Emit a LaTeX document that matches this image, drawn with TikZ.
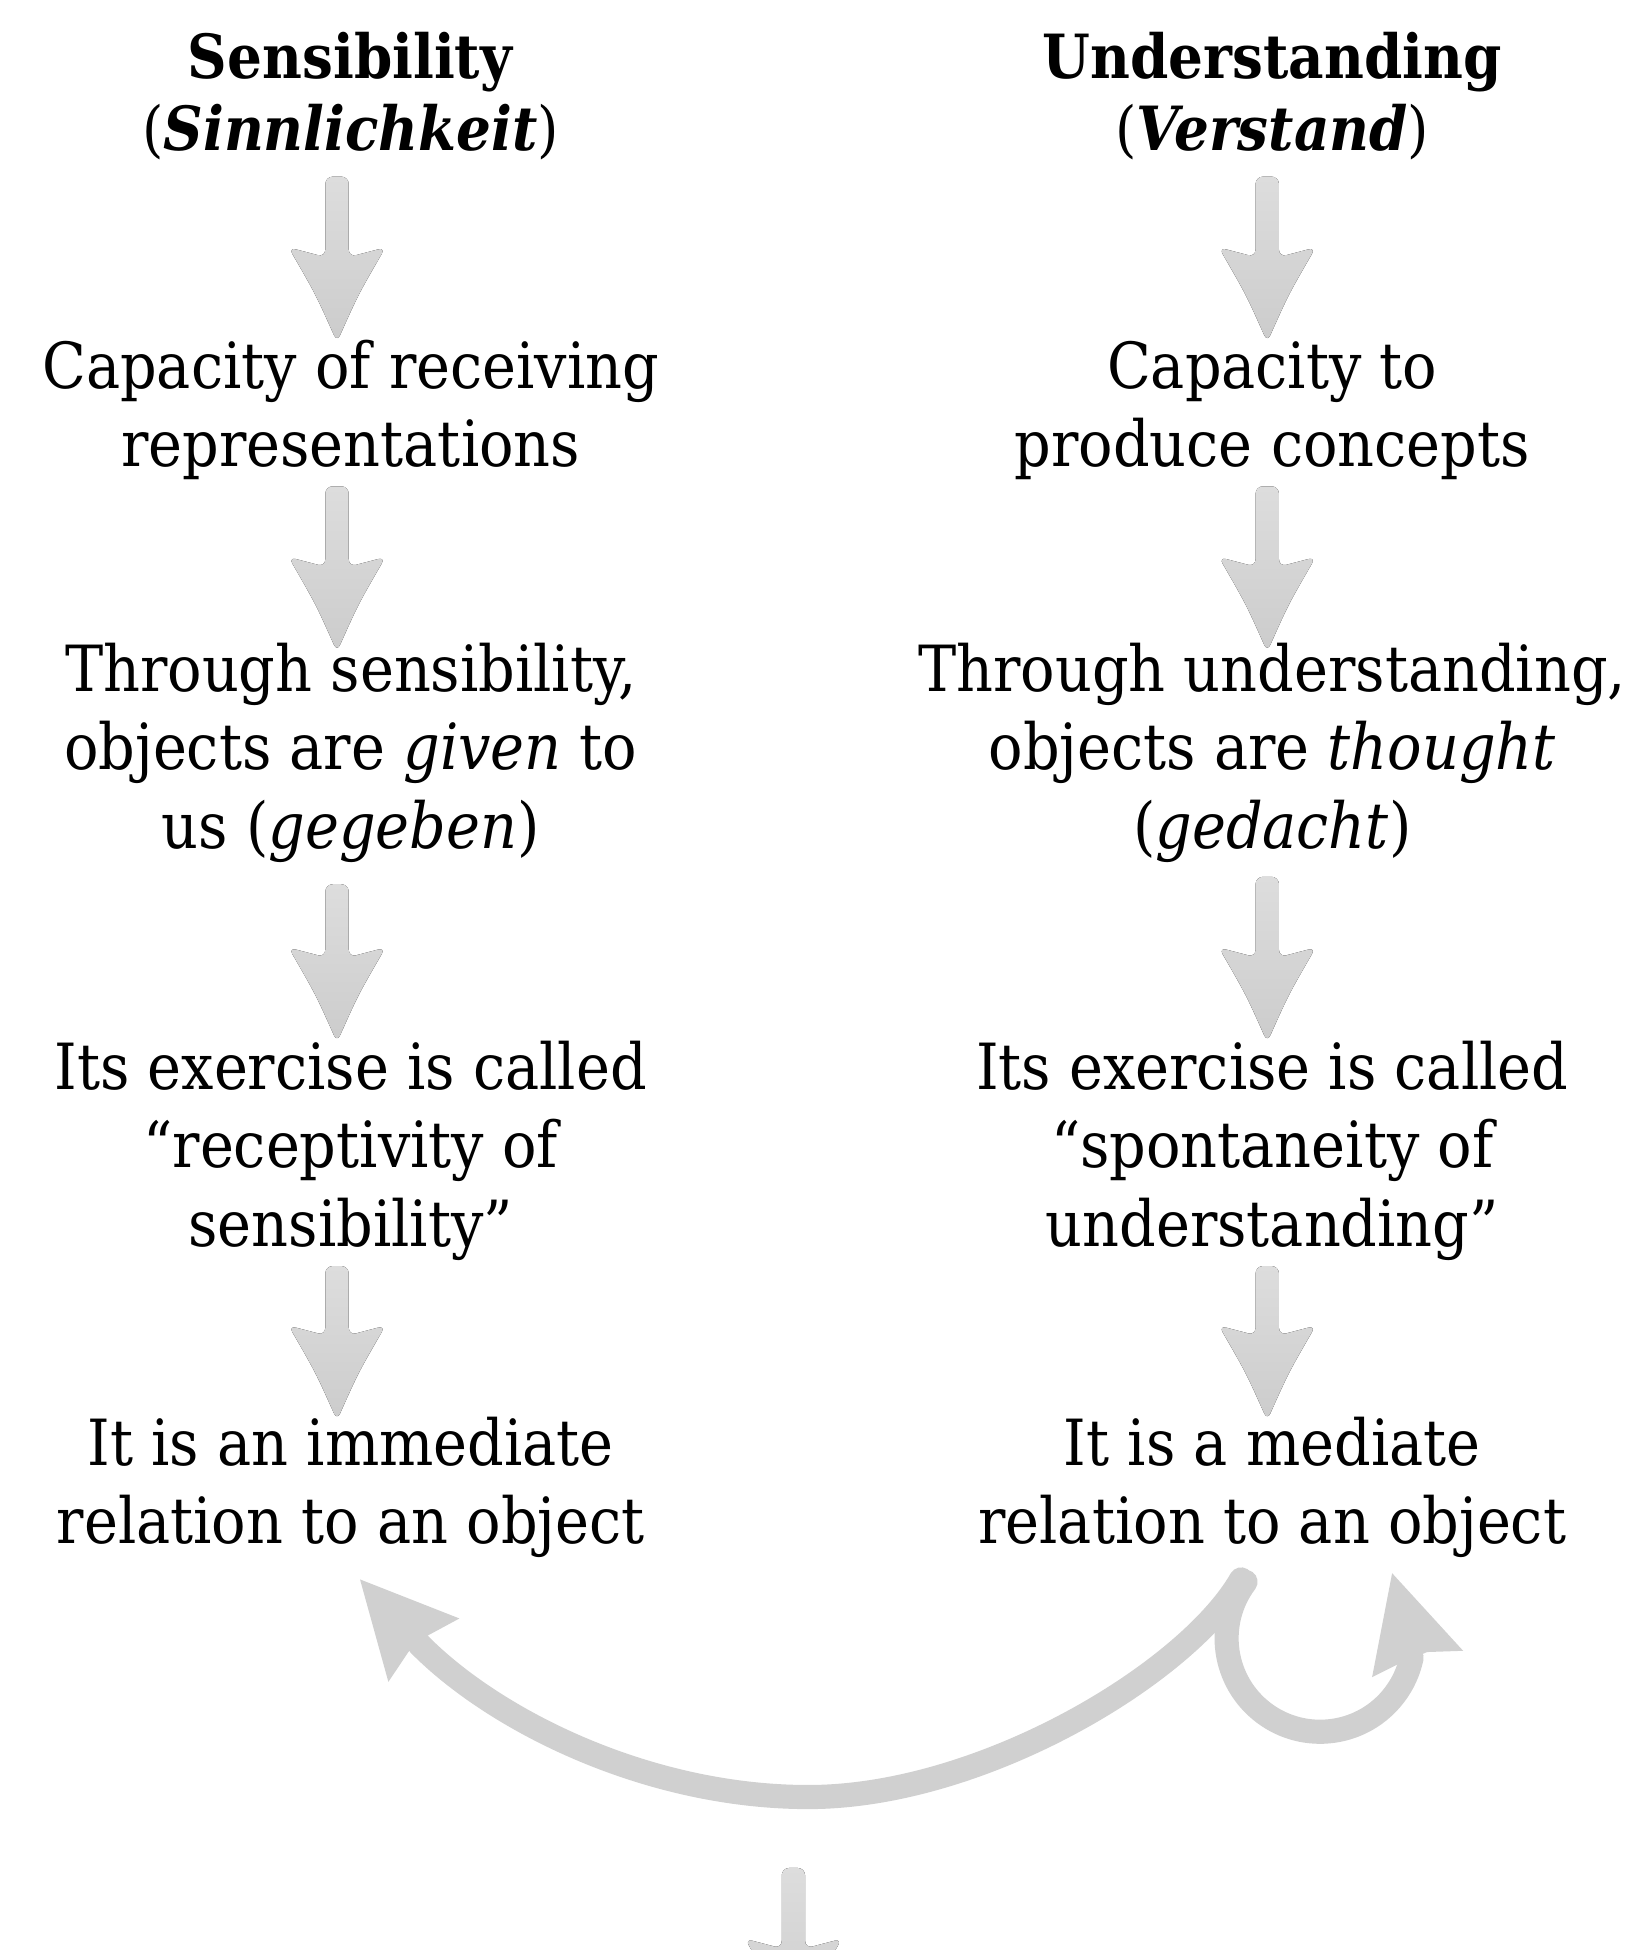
\documentclass[tikz,border=0pt]{standalone}
\usepackage{fontspec}
\setmainfont{DejaVu Serif}[FakeStretch=0.9]
\usetikzlibrary{calc}
\definecolor{arrowgray}{HTML}{D0D0D0}
\definecolor{arrowlight}{HTML}{DDDDDD}
\definecolor{arrowdark}{HTML}{CCCCCC}
% vertical block arrow from a top coordinate down to a tip coordinate
\newcommand\blockdown[2]{%
  \fill[blockfill]
    ($(#1)+(-9.4,0)$) -- ($(#1)+(9.4,0)$) -- ($(#2)+(9.4,-68.3)$)
    -- ($(#2)+(38.9,-76)$) .. controls ($(#2)+(17,-38)$) .. (#2)
    .. controls ($(#2)+(-17,-38)$) .. ($(#2)+(-38.9,-76)$)
    -- ($(#2)+(-9.4,-68.3)$) -- cycle;}
\begin{document}
\begin{tikzpicture}[x=0.5pt,y=-0.5pt,
  txt/.style={align=center, anchor=base, inner sep=0pt,
    font=\fontsize{25.6}{31.5}\selectfont},
  headtxt/.style={txt, font=\fontsize{24.5}{29}\selectfont},
  blockfill/.style={rounded corners=3pt, top color=arrowlight, bottom color=arrowdark},
  curvestroke/.style={draw=arrowgray, line width=9.7pt},
  headfill/.style={fill=arrowgray}]
\fill[white] (0,0) rectangle (1318,1568);
\useasboundingbox (0,0) rectangle (1318,1568);
\clip (0,0) rectangle (1318,1568);

% left column: sensibility (each node placed at the baseline of its last line)
\node[headtxt] (sens) at (282,121) {\textbf{Sensibility}\\(\textbf{\textit{Sinnlichkeit}})};
\node[txt] (sens1) at (282,375) {Capacity of receiving\\representations};
\node[txt] (sens2) at (282,682) {Through sensibility,\\objects are \textit{given} to\\us (\textit{gegeben})};
\node[txt] (sens3) at (282,1002) {Its exercise is called\\“receptivity of\\sensibility”};
\node[txt] (sens4) at (282,1241) {It is an immediate\\relation to an object};

% right column: understanding
\node[headtxt] (und) at (1023,121) {\textbf{Understanding}\\(\textbf{\textit{Verstand}})};
\node[txt] (und1) at (1023,375) {Capacity to\\produce concepts};
\node[txt] (und2) at (1023,682) {Through understanding,\\objects are \textit{thought}\\(\textit{gedacht})};
\node[txt] (und3) at (1023,1002) {Its exercise is called\\“spontaneity of\\understanding”};
\node[txt] (und4) at (1023,1241) {It is a mediate\\relation to an object};

% arrow ends
\coordinate (la1) at (271,142);  \coordinate (lb1) at (271,275);
\coordinate (la2) at (271,391);  \coordinate (lb2) at (271,524);
\coordinate (la3) at (271,711);  \coordinate (lb3) at (271,838);
\coordinate (la4) at (271,1018); \coordinate (lb4) at (271,1142);
\coordinate (ra1) at (1019,142); \coordinate (rb1) at (1019,275);
\coordinate (ra2) at (1019,391); \coordinate (rb2) at (1019,524);
\coordinate (ra3) at (1019,705); \coordinate (rb3) at (1019,838);
\coordinate (ra4) at (1019,1018);\coordinate (rb4) at (1019,1142);
\coordinate (ba) at (638,1502);  \coordinate (bb) at (638,1635);

\blockdown{la1}{lb1}
\blockdown{la2}{lb2}
\blockdown{la3}{lb3}
\blockdown{la4}{lb4}
\blockdown{ra1}{rb1}
\blockdown{ra2}{rb2}
\blockdown{ra3}{rb3}
\blockdown{ra4}{rb4}
\blockdown{ba}{bb}

% curved arrows leaving the mediate relation
\coordinate (cs) at (998,1270);
\coordinate (loopc) at (1061.5,1317.3);
\draw[curvestroke, line cap=round] (cs) .. controls (955,1345) and (790,1445) .. (650,1445)
  .. controls (520,1445) and (397,1383) .. (337,1322);
\fill[headfill] (289.5,1270) -- (369.4,1301.4) -- (343.1,1315.6) -- (328.4,1328.3)
  -- (312.3,1352.4) -- cycle;
\draw[curvestroke, line cap=round] (loopc) ++(217.1:75.2) arc[start angle=217.1, end angle=12, radius=75.2];
\fill[headfill] (1119.4,1265) -- (1176.5,1327.4) -- (1147.6,1328.4) -- (1125.8,1337.3)
  -- (1103.3,1348.6) -- cycle;
\end{tikzpicture}
\end{document}
